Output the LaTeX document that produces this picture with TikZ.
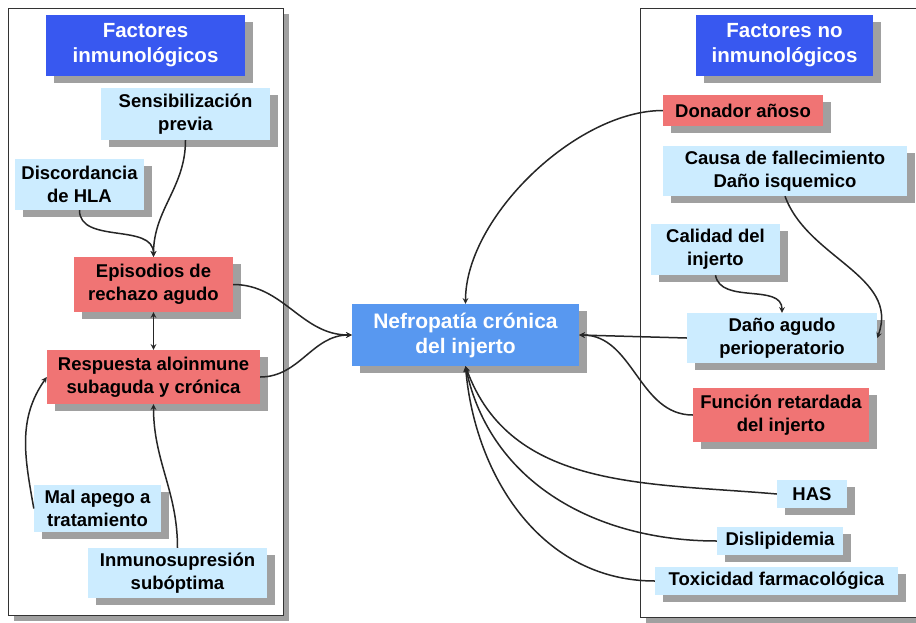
\documentclass[tikz,border=0pt]{standalone}
\usepackage{fontspec}
\setmainfont{Liberation Sans}
\usetikzlibrary{shadows}
\definecolor{azulosc}{RGB}{56,88,240}
\definecolor{azulmed}{RGB}{88,152,240}
\definecolor{celeste}{RGB}{204,236,255}
\definecolor{rojizo}{RGB}{240,116,116}
\definecolor{sombra}{RGB}{160,160,160}
\begin{document}
\begin{tikzpicture}[x=1pt,y=-1pt,
    caja/.style={align=center,inner sep=0pt,
      font=\fontsize{18.5}{23}\selectfont\bfseries,
      drop shadow={shadow xshift=8pt,shadow yshift=-7pt,fill=sombra,opacity=1}},
    factor/.style={caja,fill=celeste},
    riesgo/.style={caja,fill=rojizo},
    titulo/.style={caja,fill=azulosc,text=white,font=\fontsize{20.5}{25}\selectfont\bfseries},
    central/.style={caja,fill=azulmed,text=white,font=\fontsize{21}{25}\selectfont\bfseries},
    panel/.style={draw=black!80,fill=white,line width=0.8pt,
      drop shadow={shadow xshift=6pt,shadow yshift=-6pt,fill=sombra,opacity=1}},
    flecha/.style={->,>=stealth,line width=1.5pt,draw=black!85}]
  \useasboundingbox (0,0) rectangle (916,622);
  \fill[white] (0,0) rectangle (916,622);
  % paneles
  \draw[panel] (8,8) rectangle (283,615);
  \draw[panel] (640,8) rectangle (940,617);

  % factores inmunologicos
  \node[titulo,minimum width=199pt,minimum height=61pt] (titInm) at (145.5,45.5) {Factores\\inmunológicos};
  \node[factor,minimum width=169pt,minimum height=52pt] (sens) at (185.5,114) {Sensibilización\\previa};
  \node[factor,minimum width=129pt,minimum height=51pt] (disc) at (79.5,184.5) {Discordancia\\de HLA};
  \node[riesgo,minimum width=159pt,minimum height=55pt] (epis) at (153.5,284.5) {Episodios de\\rechazo agudo};
  \node[riesgo,minimum width=213pt,minimum height=54pt] (resp) at (153.5,377) {Respuesta aloinmune\\subaguda y crónica};
  \node[factor,minimum width=127pt,minimum height=47pt] (mal) at (97.5,508.5) {Mal apego a\\tratamiento};
  \node[factor,minimum width=179pt,minimum height=50pt] (inmu) at (177.5,573) {Inmunosupresión\\subóptima};

  % centro
  \node[central,minimum width=227pt,minimum height=62pt] (nefro) at (465.5,335) {Nefropatía crónica\\del injerto};

  % factores no inmunologicos
  \node[titulo,minimum width=177pt,minimum height=61pt] (titNo) at (784.5,45.5) {Factores no\\inmunológicos};
  \node[riesgo,minimum width=160pt,minimum height=31pt] (don) at (743,110.5) {Donador añoso};
  \node[factor,minimum width=244pt,minimum height=50pt] (causa) at (785,171) {Causa de fallecimiento\\Daño isquemico};
  \node[factor,minimum width=129pt,minimum height=51pt] (cal) at (715.5,249.5) {Calidad del\\injerto};
  \node[factor,minimum width=190pt,minimum height=50pt] (dano) at (782,338) {Daño agudo\\perioperatorio};
  \node[riesgo,minimum width=176pt,minimum height=54pt] (func) at (781,415) {Función retardada\\del injerto};
  \node[factor,minimum width=70pt,minimum height=28pt] (has) at (812,494) {HAS};
  \node[factor,minimum width=126pt,minimum height=28pt] (disl) at (780,541) {Dislipidemia};
  \node[factor,minimum width=243pt,minimum height=28pt] (tox) at (776.5,581) {Toxicidad farmacológica};

  % conectores lado izquierdo
  \draw[flecha] (sens.south) to[out=-90,in=90] (epis.north);
  \draw[flecha] (disc.south) to[out=-90,in=90] (epis.north);
  \draw[flecha,<->] (epis) -- (resp);
  \draw[flecha] (mal.west) to[out=100,in=235] (resp.west);
  \draw[flecha] (inmu.north) to[out=90,in=-90] (resp.south);
  \draw[flecha] (epis.east) to[out=0,in=180] (nefro.west);
  \draw[flecha] (resp.east) to[out=0,in=180] (nefro.west);

  % conectores lado derecho
  \draw[flecha] (don.west) to[out=180,in=90,looseness=0.8] (nefro.north);
  \draw[flecha] (causa.south) to[out=-70,in=70] (dano.east);
  \draw[flecha] (cal.south) to[out=-80,in=90] (dano.north);
  \draw[flecha] (dano.west) -- (nefro.east);
  \draw[flecha] (func.west) to[out=180,in=0] (nefro.east);
  \draw[flecha] (has.west) to[out=175,in=-70] (nefro.south);
  \draw[flecha] (disl.west) to[out=180,in=-78] (nefro.south);
  \draw[flecha] (tox.west) to[out=180,in=-85] (nefro.south);
\end{tikzpicture}
\end{document}
